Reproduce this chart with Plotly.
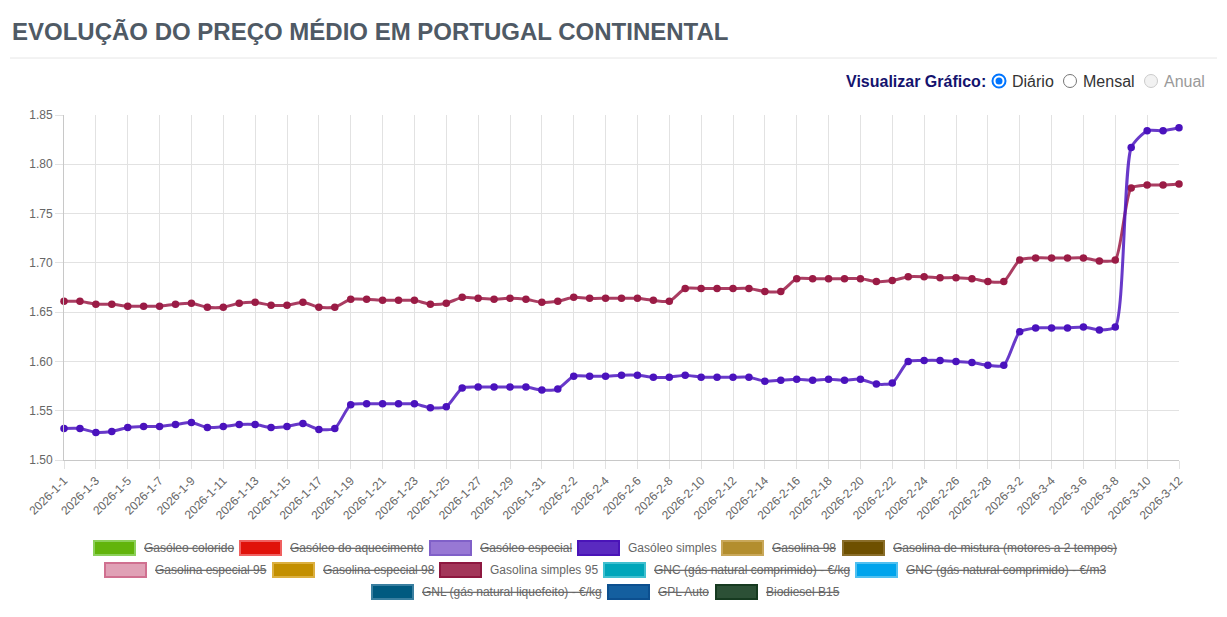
import pandas as pd
import plotly.graph_objects as go

# --- dados ---
dias = [f"{d.year}-{d.month}-{d.day}" for d in pd.date_range("2026-01-01", "2026-03-12")]

gasoleo_simples = [
    1.532, 1.532, 1.528, 1.529, 1.533, 1.534, 1.534, 1.536, 1.538, 1.533,
    1.534, 1.536, 1.536, 1.533, 1.534, 1.537, 1.531, 1.532, 1.556, 1.557,
    1.557, 1.557, 1.557, 1.553, 1.554, 1.573, 1.574, 1.574, 1.574, 1.574,
    1.571, 1.572, 1.585, 1.585, 1.585, 1.586, 1.586, 1.584, 1.584, 1.586,
    1.584, 1.584, 1.584, 1.584, 1.580, 1.581, 1.582, 1.581, 1.582, 1.581,
    1.582, 1.577, 1.578, 1.600, 1.601, 1.601, 1.600, 1.599, 1.596, 1.596,
    1.630, 1.634, 1.634, 1.634, 1.635, 1.632, 1.635, 1.817, 1.834, 1.834,
    1.837,
]

gasolina_simples_95 = [
    1.661, 1.661, 1.658, 1.658, 1.656, 1.656, 1.656, 1.658, 1.659, 1.655,
    1.655, 1.659, 1.660, 1.657, 1.657, 1.660, 1.655, 1.655, 1.663, 1.663,
    1.662, 1.662, 1.662, 1.658, 1.659, 1.665, 1.664, 1.663, 1.664, 1.663,
    1.660, 1.661, 1.665, 1.664, 1.664, 1.664, 1.664, 1.662, 1.661, 1.674,
    1.674, 1.674, 1.674, 1.674, 1.671, 1.671, 1.684, 1.684, 1.684, 1.684,
    1.684, 1.681, 1.682, 1.686, 1.686, 1.685, 1.685, 1.684, 1.681, 1.681,
    1.703, 1.705, 1.705, 1.705, 1.705, 1.702, 1.703, 1.776, 1.779, 1.779,
    1.780,
]

combustiveis = [
    "Gasóleo colorido", "Gasóleo do aquecimento", "Gasóleo especial",
    "Gasóleo simples", "Gasolina 98", "Gasolina de mistura (motores a 2 tempos)",
    "Gasolina especial 95", "Gasolina especial 98", "Gasolina simples 95",
    "GNC (gás natural comprimido) - €/kg", "GNC (gás natural comprimido) - €/m3",
    "GNL (gás natural liquefeito) - €/kg", "GPL Auto", "Biodiesel B15",
]
visiveis = [False, False, False, True, False, False, False, False, True,
            False, False, False, False, False]
cores = ["#62b40c", "#e0120a", "#9878d4", "#5a2ac0", "#b38e2e", "#6e5000",
         "#e0a1b6", "#c38f00", "#a3375a", "#00a6ba", "#00a4ec", "#015a80",
         "#145f9f", "#2c5036"]
bordas = ["#8cd05a", "#f06060", "#8060c8", "#4a14b8", "#c9a85a", "#8a6e2a",
          "#d07090", "#dcb040", "#8e1840", "#40c0d0", "#50c0f0", "#3a7fa0",
          "#0c4f8f", "#163a20"]

# --- layout (pixels) ---
W, H = 1227, 617
L, R, T, B = 64, 48, 115, 157
PW, PH = W - L - R, H - T - B
FONT = "Liberation Sans, Arial, sans-serif"

# posição das caixas da legenda: (x esquerda, y centro)
legenda_pos = [(94, 548), (240, 548), (430, 548), (578, 548), (722, 548), (843, 548),
               (105, 570), (273, 570), (440, 570), (604, 570), (856, 570),
               (372, 592), (608, 592), (716, 592)]


def px(x):
    return (x - L) / PW


def py(y):
    return (T + PH - y) / PH


fig = go.Figure()

# Chart.js desenha o primeiro dataset por cima
for nome, serie, cor_linha, cor_ponto in [
    ("Gasolina simples 95", gasolina_simples_95, "rgba(155,27,70,0.85)", "#9a1b45"),
    ("Gasóleo simples", gasoleo_simples, "rgba(78,22,192,0.85)", "#4a12bd"),
]:
    fig.add_trace(go.Scatter(
        x=dias, y=serie, name=nome, mode="lines+markers",
        line=dict(color=cor_linha, width=3, shape="spline", smoothing=0.6),
        marker=dict(color=cor_ponto, size=7.5),
        cliponaxis=False, showlegend=False,
        hovertemplate="%{x}<br>" + nome + ": %{y:.3f}<extra></extra>",
    ))

shapes = []
annotations = []

# título e separador
annotations.append(dict(
    x=px(10), y=py(32), xref="paper", yref="paper", xanchor="left", yanchor="middle",
    text="<b>EVOLUÇÃO DO PREÇO MÉDIO EM PORTUGAL CONTINENTAL</b>", showarrow=False,
    font=dict(family=FONT, size=24, color="#4f5a65"),
))
shapes.append(dict(type="line", xref="paper", yref="paper",
                   x0=px(10), x1=px(1217), y0=py(58), y1=py(58),
                   line=dict(color="#e6e6e6", width=1)))

# seletor "Visualizar Gráfico"
annotations.append(dict(
    x=px(988), y=py(81), xref="paper", yref="paper", xanchor="right", yanchor="middle",
    text="<b>Visualizar Gráfico:</b>", showarrow=False,
    font=dict(family=FONT, size=16, color="#14136e"),
))
opcoes = [("Diário", 999, "#333333", "checked"),
          ("Mensal", 1070, "#333333", "off"),
          ("Anual", 1151, "#9a9a9a", "disabled")]
for texto, cx, cor, estado in opcoes:
    r = 6.5
    if estado == "checked":
        shapes.append(dict(type="circle", xref="paper", yref="paper",
                           x0=px(cx - r), x1=px(cx + r), y0=py(81 + r), y1=py(81 - r),
                           fillcolor="white", line=dict(color="#0075ff", width=2)))
        shapes.append(dict(type="circle", xref="paper", yref="paper",
                           x0=px(cx - 3.5), x1=px(cx + 3.5), y0=py(81 + 3.5), y1=py(81 - 3.5),
                           fillcolor="#0075ff", line=dict(width=0)))
    elif estado == "off":
        shapes.append(dict(type="circle", xref="paper", yref="paper",
                           x0=px(cx - r), x1=px(cx + r), y0=py(81 + r), y1=py(81 - r),
                           fillcolor="white", line=dict(color="#767676", width=1)))
    else:
        shapes.append(dict(type="circle", xref="paper", yref="paper",
                           x0=px(cx - r), x1=px(cx + r), y0=py(81 + r), y1=py(81 - r),
                           fillcolor="#f2f2f2", line=dict(color="#cbcbcb", width=1)))
    annotations.append(dict(
        x=px(cx + 11), y=py(81), xref="paper", yref="paper", xanchor="left", yanchor="middle",
        text=texto, showarrow=False, font=dict(family=FONT, size=16, color=cor),
    ))

# legenda desenhada à mão (estilo Chart.js)
for nome, vis, cor, borda, (lx, ly) in zip(combustiveis, visiveis, cores, bordas, legenda_pos):
    shapes.append(dict(type="rect", xref="paper", yref="paper",
                       x0=px(lx), x1=px(lx + 41), y0=py(ly + 7), y1=py(ly - 7),
                       fillcolor=cor, line=dict(color=borda, width=2)))
    fonte = dict(family=FONT, size=12, color="#666666")
    if not vis:
        fonte["lineposition"] = "through"
    annotations.append(dict(
        x=px(lx + 48), y=py(ly), xref="paper", yref="paper", xanchor="left", yanchor="middle",
        text=nome, showarrow=False, font=fonte,
    ))

fig.update_layout(
    width=W, height=H,
    margin=dict(l=L, r=R, t=T, b=B, pad=0),
    paper_bgcolor="white", plot_bgcolor="white",
    font=dict(family=FONT, size=12, color="#666666"),
    shapes=shapes, annotations=annotations,
    showlegend=False,
    xaxis=dict(
        type="category", range=[0, len(dias) - 1],
        tickmode="array", tickvals=dias[::2], ticktext=dias[::2],
        tickangle=-45, ticks="outside", ticklen=8, tickcolor="#e2e2e2",
        showgrid=True, gridcolor="#e2e2e2", gridwidth=1,
        showline=True, linecolor="#c8c8c8", linewidth=1, mirror=False,
        tickfont=dict(family=FONT, size=12, color="#666666"),
        fixedrange=True,
    ),
    yaxis=dict(
        range=[1.50, 1.85], dtick=0.05, tick0=1.5, tickformat=".2f",
        ticks="outside", ticklen=8, tickcolor="#e2e2e2",
        showgrid=True, gridcolor="#e2e2e2", gridwidth=1, zeroline=False,
        showline=True, linecolor="#c8c8c8", linewidth=1,
        tickfont=dict(family=FONT, size=12, color="#666666"),
        fixedrange=True,
    ),
)

fig.write_html("out.html", config={"displayModeBar": False},
               post_script="document.body.style.margin='0';")
